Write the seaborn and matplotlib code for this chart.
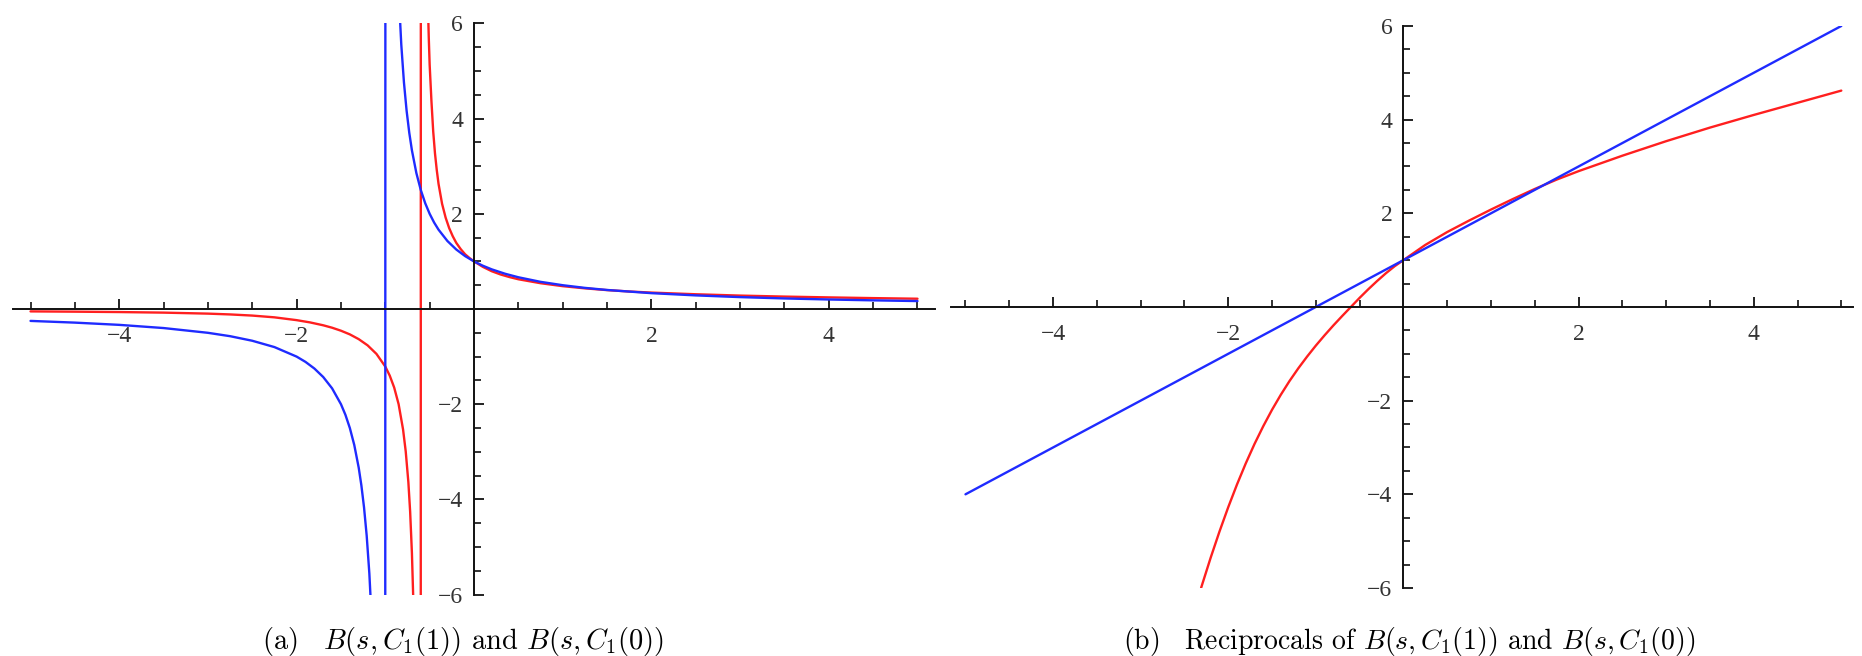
import matplotlib
matplotlib.use("Agg")
import matplotlib.pyplot as plt
import seaborn as sns
import pandas as pd

# ---------------- data ----------------
# Panel (a): B(s, C1(1))  (blue) -- points on both sides of the pole at s = -1
blue_a_s = [-5.0, -4.5, -4.0, -3.5, -3.0, -2.75, -2.5, -2.25, -2.0, -1.9, -1.8, -1.7,
            -1.6, -1.5, -1.45, -1.4, -1.35, -1.3, -1.27, -1.24, -1.21, -1.18, -1.15,
            -1.12, -1.08, -1.04, -1.01,
            -0.99, -0.96, -0.92, -0.88, -0.85, -0.82, -0.79, -0.76, -0.73, -0.7, -0.65,
            -0.6, -0.55, -0.5, -0.45, -0.4, -0.3, -0.2, -0.1, 0.0, 0.1, 0.2, 0.35, 0.5,
            0.75, 1.0, 1.25, 1.5, 2.0, 2.5, 3.0, 3.5, 4.0, 4.5, 5.0]
blue_a_y = [-0.25, -0.286, -0.333, -0.4, -0.5, -0.571, -0.667, -0.8, -1.0, -1.111, -1.25,
            -1.429, -1.667, -2.0, -2.222, -2.5, -2.857, -3.333, -3.704, -4.167, -4.762,
            -5.556, -6.667, -8.333, -12.5, -25.0, -100.0,
            100.0, 25.0, 12.5, 8.333, 6.667, 5.556, 4.762, 4.167, 3.704, 3.333, 2.857,
            2.5, 2.222, 2.0, 1.818, 1.667, 1.429, 1.25, 1.111, 1.0, 0.909, 0.833, 0.741,
            0.667, 0.571, 0.5, 0.444, 0.4, 0.333, 0.286, 0.25, 0.222, 0.2, 0.182, 0.167]

# Panel (a): B(s, C1(0))  (red) -- points on both sides of its pole near s = -0.6
red_a_s = [-5.0, -4.5, -4.0, -3.5, -3.0, -2.75, -2.5, -2.25, -2.0, -1.85, -1.7, -1.6,
           -1.5, -1.4, -1.3, -1.2, -1.1, -1.0, -0.95, -0.9, -0.85, -0.8, -0.77, -0.74,
           -0.72, -0.7, -0.68, -0.66, -0.64, -0.62, -0.61, -0.605,
           -0.595, -0.59, -0.58, -0.57, -0.56, -0.55, -0.54, -0.53, -0.52, -0.51, -0.5,
           -0.48, -0.46, -0.44, -0.42, -0.4, -0.36, -0.32, -0.28, -0.24, -0.2, -0.15,
           -0.1, -0.05, 0.0, 0.1, 0.2, 0.3, 0.4, 0.5, 0.75, 1.0, 1.25, 1.5, 1.75, 2.0,
           2.5, 3.0, 3.5, 4.0, 4.5, 5.0]
red_a_y = [-0.05, -0.056, -0.064, -0.076, -0.097, -0.114, -0.138, -0.175, -0.234, -0.281,
           -0.342, -0.393, -0.456, -0.533, -0.633, -0.763, -0.943, -1.21, -1.40, -1.65,
           -2.0, -2.53, -2.99, -3.64, -4.26, -5.13, -6.4, -8.5, -12.8, -25.6, -51.0, -102.0,
           102.0, 51.0, 25.6, 17.1, 12.8, 10.3, 8.55, 7.33, 6.41, 5.7, 5.13,
           4.37, 3.73, 3.27, 2.92, 2.63, 2.21, 1.92, 1.70, 1.53, 1.39, 1.258,
           1.149, 1.07, 1.0, 0.885, 0.794, 0.725, 0.671, 0.625, 0.542, 0.48, 0.434, 0.397,
           0.368, 0.345, 0.31, 0.282, 0.261, 0.244, 0.229, 0.216]

# Panel (b): reciprocals
blue_b_s = [-5, -4, -3, -2, -1, 0, 1, 2, 3, 4, 5]
blue_b_y = [-4, -3, -2, -1, 0, 1, 2, 3, 4, 5, 6]

red_b_s = [-2.31, -2.3, -2.2, -2.1, -2.0, -1.9, -1.8, -1.7, -1.6, -1.5, -1.4, -1.3,
           -1.2, -1.1, -1.0, -0.9, -0.8, -0.7, -0.6, -0.5, -0.4, -0.3, -0.2, -0.1,
           0.0, 0.25, 0.5, 0.75, 1.0, 1.25, 1.5, 1.75, 2.0, 2.5, 3.0, 3.5, 4.0, 4.5, 5.0]
red_b_y = [-6.0, -5.94, -5.35, -4.795, -4.275, -3.79, -3.34, -2.925, -2.545, -2.195,
           -1.875, -1.58, -1.31, -1.06, -0.825, -0.605, -0.395, -0.195, 0.0, 0.195,
           0.38, 0.555, 0.72, 0.87, 1.0, 1.325, 1.6, 1.845, 2.08, 2.305, 2.52, 2.72, 2.9,
           3.23, 3.54, 3.83, 4.1, 4.36, 4.62]

x_major = [-4, -2, 2, 4]
x_minor = [v / 2 for v in range(-10, 11) if v % 4 != 0]
y_major = [-6, -4, -2, 2, 4, 6]
y_minor = [v / 2 for v in range(-12, 13) if v % 4 != 0]

caption_a = r"(a)$\quad B(s,C_1(1))$ and $B(s,C_1(0))$"
caption_b = r"(b)$\quad$Reciprocals of $B(s,C_1(1))$ and $B(s,C_1(0))$"

BLUE = "#1f2bff"
RED = "#ff1f1f"

# ---------------- styling ----------------
sns.set_style("white")
plt.rcParams["mathtext.fontset"] = "cm"
plt.rcParams["font.family"] = ["Liberation Serif", "DejaVu Serif"]

fig = plt.figure(figsize=(18.62, 6.56), dpi=100)
fig.patch.set_facecolor("white")

ax1 = fig.add_axes([0.00687, 0.0936, 0.4954, 0.8707])
ax2 = fig.add_axes([0.5110, 0.1037, 0.4840, 0.8567])


def style_axes(ax, xlim):
    ax.set_xlim(*xlim)
    ax.set_ylim(-6, 6)
    ax.set_facecolor("none")
    for side in ("top", "right"):
        ax.spines[side].set_visible(False)
    for side in ("left", "bottom"):
        ax.spines[side].set_position(("data", 0))
        ax.spines[side].set_color("#111111")
        ax.spines[side].set_linewidth(1.4)
    ax.set_xticks(x_major)
    ax.set_xticks(x_minor, minor=True)
    ax.set_yticks(y_major)
    ax.set_yticks(y_minor, minor=True)
    ax.set_xticklabels(["\u2212" + str(-v) if v < 0 else str(v) for v in x_major])
    ax.set_yticklabels(["\u2212" + str(-v) if v < 0 else str(v) for v in y_major])
    ax.tick_params(axis="both", which="both", bottom=True, left=True, top=False,
                   right=False, direction="in")
    ax.tick_params(axis="both", which="major", length=7.5, width=1.3,
                   color="#111111", labelsize=17, labelcolor="#333333", pad=8)
    ax.tick_params(axis="x", which="major", pad=12)
    ax.tick_params(axis="both", which="minor", length=5, width=1.2,
                   color="#111111")
    ax.set_xlabel("")
    ax.set_ylabel("")
    ax.grid(False)


def draw(ax, s, y, color):
    df = pd.DataFrame({"s": s, "y": y})
    sns.lineplot(data=df, x="s", y="y", ax=ax, color=color, linewidth=1.7,
                 sort=False, estimator=None, legend=False)


draw(ax1, red_a_s, red_a_y, RED)
draw(ax1, blue_a_s, blue_a_y, BLUE)
style_axes(ax1, (-5.2, 5.2))

draw(ax2, red_b_s, red_b_y, RED)
draw(ax2, blue_b_s, blue_b_y, BLUE)
style_axes(ax2, (-5.16, 5.13))

fig.text(0.2487, 0.022, caption_a, ha="center", va="center", fontsize=20.5,
         family=["cmr10", "DejaVu Serif"], color="black")
fig.text(0.757, 0.022, caption_b, ha="center", va="center", fontsize=20,
         family=["cmr10", "DejaVu Serif"], color="black")

fig.savefig("out.png", dpi=100, facecolor="white")
